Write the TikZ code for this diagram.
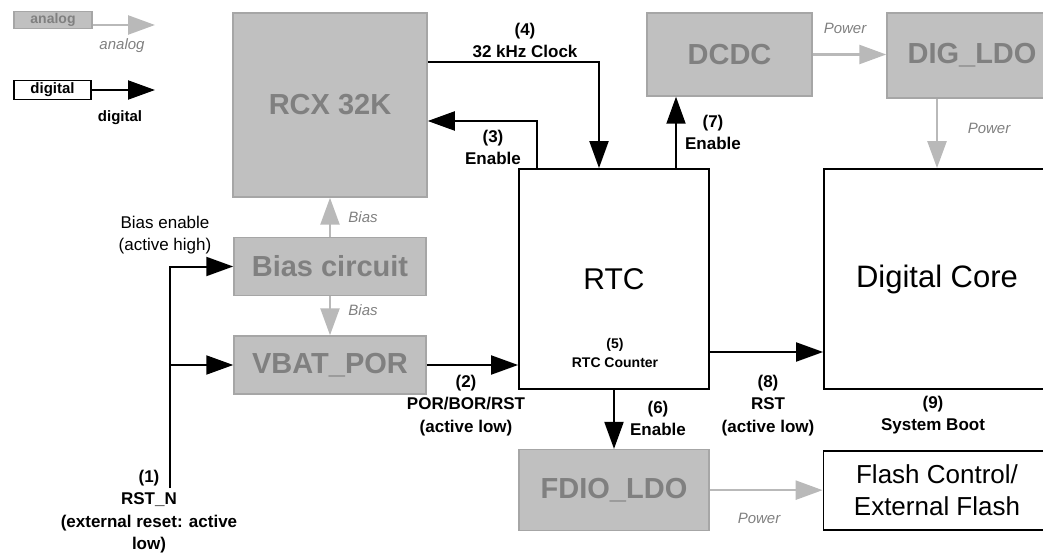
\documentclass[tikz,border=0pt]{standalone}
\usepackage{fontspec}
\setmainfont{Liberation Sans}
\usetikzlibrary{arrows.meta, positioning, calc}
\definecolor{anafill}{RGB}{192,192,192}
\definecolor{anaedge}{RGB}{166,166,166}
\definecolor{anatext}{RGB}{128,128,128}
\definecolor{analine}{RGB}{185,185,185}

\begin{document}
\begin{tikzpicture}[x=1pt, y=-1pt,
    anabox/.style={draw=anaedge, line width=1.5pt, fill=anafill, text=anatext, font=\fontsize{29}{34}\selectfont\bfseries, inner sep=0pt},
    digbox/.style={draw, line width=1.8pt, fill=white, inner sep=0pt, align=center},
    anaarrow/.style={draw=analine, line width=2.5pt, -{Triangle[length=27pt, width=19pt]}},
    digarrow/.style={draw, line width=2pt, -{Triangle[length=27pt, width=19pt]}},
    siglabel/.style={font=\fontsize{17}{22.5}\selectfont\bfseries, align=center, inner sep=0pt},
    analabel/.style={font=\fontsize{15}{18}\selectfont\itshape, text=anatext, inner sep=0pt}]
    \useasboundingbox (0,0) rectangle (1043,553);

    % legend
    \node [anabox, font=\fontsize{14}{17}\selectfont\bfseries, minimum width=78pt, minimum height=17pt] (anakey) at (53,20) {analog};
    \node [digbox, font=\fontsize{15}{18}\selectfont\bfseries, minimum width=77pt, minimum height=19pt] (digkey) at (52.5,90) {digital};
    \coordinate (anaend) at (155,25);
    \coordinate (digend) at (155,90);
    \draw [anaarrow] (anakey.east |- anaend) -- (anaend);
    \draw [digarrow] (digkey) -- (digend);
    \node [analabel] (anakeylbl) at (122,46) {analog};
    \node [siglabel, font=\fontsize{15}{18}\selectfont\bfseries] (digkeylbl) at (120,118) {digital};

    % blocks
    \node [anabox, minimum width=194pt, minimum height=184pt] (rcx) at (330,105) {RCX 32K};
    \node [anabox, minimum width=192pt, minimum height=58pt, below=39pt of rcx] (bias) {Bias circuit};
    \node [anabox, minimum width=192pt, minimum height=58pt, below=39pt of bias] (vbat) {VBAT\_POR};
    \node [digbox, font=\fontsize{30}{36}\selectfont, minimum width=190pt, minimum height=220pt] (rtc) at (614,279) {RTC};
    \node [anabox, minimum width=165pt, minimum height=83pt] (dcdc) at (729.5,54.5) {DCDC};
    \node [anabox, minimum width=170pt, minimum height=85pt] (digldo) at (972,55.5) {DIG\_LDO};
    \node [digbox, font=\fontsize{31}{37}\selectfont, minimum width=226pt, minimum height=220pt] (core) at (937,279) {Digital Core};
    \node [anabox, minimum width=190pt, minimum height=81pt, below=59pt of rtc] (fdio) {FDIO\_LDO};
    \node [digbox, font=\fontsize{26}{32}\selectfont, minimum width=227pt, minimum height=79pt, below=60pt of core] (flash) {Flash Control/\\External Flash};

    % analog paths
    \draw [anaarrow] (bias) -- (rcx);
    \draw [anaarrow] (bias) -- (vbat);
    \draw [anaarrow] (dcdc.east) -- (dcdc.east -| digldo.west);
    \draw [anaarrow] (core.north |- digldo.south) -- (core.north);
    \draw [anaarrow] (fdio.east) -- (fdio.east -| flash.west);
    \node [analabel] (biasup) at (363,217) {Bias};
    \node [analabel] (biasdown) at (363,310) {Bias};
    \node [analabel] (pwrdig) at (845,28) {Power};
    \node [analabel] (pwrcore) at (989,128) {Power};
    \node [analabel] (pwrflash) at (759,518) {Power};

    % digital paths
    \coordinate (rstn) at (170,488);
    \draw [digarrow] (rstn) |- (bias.west);
    \draw [digarrow] (rstn |- vbat.west) -- (vbat.west);
    \draw [digarrow] (vbat.east) -- (vbat.east -| rtc.west);
    \draw [digarrow] ([xshift=19pt]rtc.north west) |- ([yshift=-16pt]rcx.east);
    \draw [digarrow] ([yshift=43pt]rcx.east) -| ([xshift=-15pt]rtc.north);
    \draw [digarrow] ([xshift=62pt]rtc.north) -- ([xshift=62pt]rtc.north |- dcdc.south);
    \draw [digarrow] (rtc) -- (fdio);
    \draw [digarrow] ([yshift=-73pt]rtc.east) -- ([yshift=-73pt]core.west);

    % signal labels
    \node [siglabel, font=\fontsize{17}{22}\selectfont] (biasen) at (165,235) {Bias enable\\(active high)};
    \node [siglabel] (lblone) at (149,511.5) {(1)\\RST\_N\\(external reset: active\\low)};
    \node [siglabel] (lbltwo) at (466,405.5) {(2)\\POR/BOR/RST\\(active low)};
    \node [siglabel] (lblthree) at (493,147.5) {(3)\\Enable};
    \node [siglabel] (lblfour) at (525,40.5) {(4)\\32 kHz Clock};
    \node [siglabel, font=\fontsize{14}{19}\selectfont\bfseries] (lblfive) at (615,352.5) {(5)\\RTC Counter};
    \node [siglabel] (lblsix) at (658,418.5) {(6)\\Enable};
    \node [siglabel] (lblseven) at (713,132.5) {(7)\\Enable};
    \node [siglabel] (lbleight) at (768,405.5) {(8)\\RST\\(active low)};
    \node [siglabel] (lblnine) at (933,415) {(9)\\System Boot};
\end{tikzpicture}
\end{document}
